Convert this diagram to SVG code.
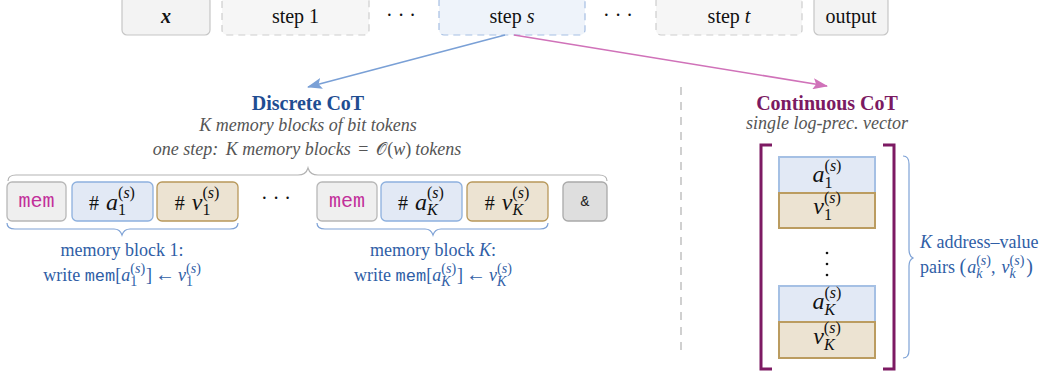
<svg xmlns="http://www.w3.org/2000/svg" width="1057" height="377" viewBox="0 0 1057 377">
<defs>
<style>
text{font-family:"Liberation Serif","Times New Roman",serif;}
.top{font-size:20px;fill:#111;text-anchor:middle;}
.solid{fill:#f3f3f3;stroke:#c6c6c6;stroke-width:1.2;}
.dash{fill:#f6f6f6;stroke:#cdcdcd;stroke-width:1.2;stroke-dasharray:7 5;}
.dashb{fill:#eef3fa;stroke:#a6bfe3;stroke-width:1.2;stroke-dasharray:7 5;}
.mem{fill:#efefef;stroke:#b7b7b7;stroke-width:1.3;}
.ta{fill:#e2e9f5;stroke:#8db0de;stroke-width:1.3;}
.tv{fill:#ece3d2;stroke:#b8985a;stroke-width:1.3;}
.amp{fill:#dedede;stroke:#a9a9a9;stroke-width:1.3;}
.va{fill:#e2e9f5;stroke:#a5c0e4;stroke-width:2;}
.vv{fill:#ece3d2;stroke:#bb9c60;stroke-width:2;}
.mono{font-family:"Liberation Mono","Courier New",monospace;}
.memt{font-size:20px;fill:#c2309a;text-anchor:middle;}
.tok{font-size:24px;fill:#111;text-anchor:middle;}
.it{font-style:italic;}
.title{font-size:20px;font-weight:bold;text-anchor:middle;}
.sub{font-size:18px;font-style:italic;fill:#555;text-anchor:middle;}
.lbl{font-size:18px;fill:#2f5ea6;text-anchor:middle;}
.lbls{font-size:18px;fill:#2f5ea6;}
.brg{fill:none;stroke:#b3b3b3;stroke-width:1.2;}
.brb{fill:none;stroke:#7ea2d6;stroke-width:1.2;}
.bracket{fill:none;stroke:#7d1a63;stroke-width:3;}
</style>
<marker id="ab" viewBox="0 0 15 11" refX="14" refY="5.5" markerWidth="15" markerHeight="11" markerUnits="userSpaceOnUse" orient="auto"><path d="M0,0 L15,5.5 L0,11 L3,5.5 z" fill="#7aa0d6"/></marker>
<marker id="ap" viewBox="0 0 15 11" refX="14" refY="5.5" markerWidth="15" markerHeight="11" markerUnits="userSpaceOnUse" orient="auto"><path d="M0,0 L15,5.5 L0,11 L3,5.5 z" fill="#d072b9"/></marker>
</defs>
<rect width="1057" height="377" fill="#ffffff"/>

<g id="node-x"><rect class="solid" x="122" y="-4" width="88" height="39" rx="5"/><text class="top" x="166" y="23" font-weight="bold" font-style="italic">x</text></g>
<g id="node-step1"><rect class="dash" x="222" y="-4" width="147" height="39" rx="5"/><text class="top" x="295.5" y="23">step 1</text></g>
<text class="top" x="401" y="22">· · ·</text>
<g id="node-steps"><rect class="dashb" x="439" y="-4" width="146" height="39" rx="5"/><text class="top" x="512" y="23">step <tspan class="it">s</tspan></text></g>
<text class="top" x="618" y="22">· · ·</text>
<g id="node-stept"><rect class="dash" x="656" y="-4" width="146" height="39" rx="5"/><text class="top" x="729" y="23">step <tspan class="it">t</tspan></text></g>
<g id="node-output"><rect class="solid" x="814" y="-4" width="74" height="39" rx="5"/><text class="top" x="851" y="23">output</text></g>

<g id="connectors">
<line x1="505" y1="35" x2="308" y2="87" stroke="#7aa0d6" stroke-width="1.6" marker-end="url(#ab)"/>
<line x1="514" y1="35" x2="827" y2="86" stroke="#d072b9" stroke-width="1.6" marker-end="url(#ap)"/>
</g>

<line x1="681" y1="87" x2="681" y2="357" stroke="#d0d0d0" stroke-width="2" stroke-dasharray="8 7"/>

<g id="discrete">
<text class="title" x="308" y="110" fill="#1f4d92">Discrete CoT</text>
<text class="sub" x="308" y="131">K memory blocks of bit tokens</text>
<text class="sub" x="307" y="155">one step: <tspan dx="3">K</tspan> memory blocks <tspan font-style="normal" dx="3">=</tspan><tspan font-family="DejaVu Sans, sans-serif" font-style="normal" font-size="17px" dx="8">𝒪</tspan><tspan font-style="normal">(</tspan>w<tspan font-style="normal">)</tspan><tspan dx="4">tokens</tspan></text>
<path class="brg" d="M8 181 Q8 175 16 175 L298 175 Q306 175 308 168 Q310 175 318 175 L599 175 Q607 175 607 181"/>
</g>

<g id="tok-mem1"><rect class="mem" x="7" y="182" width="59" height="39" rx="5"/><text class="mono memt" x="36.5" y="207">mem</text></g>
<g id="tok-a1"><rect class="ta" x="72" y="182" width="81" height="39" rx="5"/><text class="tok" x="112" y="210"><tspan font-size="20px">#</tspan><tspan dx="7" class="it">a</tspan><tspan font-size="16px" dy="5">1</tspan><tspan font-size="16px" dx="-8" dy="-17">(<tspan class="it">s</tspan>)</tspan></text></g>
<g id="tok-v1"><rect class="tv" x="157" y="182" width="81" height="39" rx="5"/><text class="tok" x="197" y="210"><tspan font-size="20px">#</tspan><tspan dx="7" class="it">v</tspan><tspan font-size="16px" dy="5">1</tspan><tspan font-size="16px" dx="-8" dy="-17">(<tspan class="it">s</tspan>)</tspan></text></g>
<text class="top" x="276" y="205" font-size="22px">· · ·</text>
<g id="tok-mem2"><rect class="mem" x="317" y="182" width="60" height="39" rx="5"/><text class="mono memt" x="347" y="207">mem</text></g>
<g id="tok-aK"><rect class="ta" x="381" y="182" width="81" height="39" rx="5"/><text class="tok" x="421" y="210"><tspan font-size="20px">#</tspan><tspan dx="7" class="it">a</tspan><tspan font-size="16px" dy="5" class="it">K</tspan><tspan font-size="16px" dx="-10.7" dy="-17">(<tspan class="it">s</tspan>)</tspan></text></g>
<g id="tok-vK"><rect class="tv" x="467" y="182" width="81" height="39" rx="5"/><text class="tok" x="507" y="210"><tspan font-size="20px">#</tspan><tspan dx="7" class="it">v</tspan><tspan font-size="16px" dy="5" class="it">K</tspan><tspan font-size="16px" dx="-10.7" dy="-17">(<tspan class="it">s</tspan>)</tspan></text></g>
<g id="tok-amp"><rect class="amp" x="563" y="182" width="44" height="39" rx="5"/><text class="mono" x="585" y="206" font-size="15px" text-anchor="middle" fill="#222">&amp;</text></g>

<g id="block1">
<path class="brb" d="M7 223 Q7 229 15 229 L114 229 Q120 229 122 235 Q124 229 130 229 L230 229 Q238 229 238 223"/>
<text class="lbl" x="122" y="256">memory block 1:</text>
<text class="lbl" x="122" y="281">write <tspan class="mono" font-size="17px">mem</tspan>[<tspan class="it">a</tspan><tspan font-size="14px" dy="5">1</tspan><tspan font-size="14px" dx="-7" dy="-13">(<tspan class="it">s</tspan>)</tspan><tspan dy="8" dx="1">]</tspan><tspan dx="3" font-size="20px">←</tspan><tspan dx="3" class="it">v</tspan><tspan font-size="14px" dy="5">1</tspan><tspan font-size="14px" dx="-7" dy="-13">(<tspan class="it">s</tspan>)</tspan></text>
</g>
<g id="blockK">
<path class="brb" d="M317 223 Q317 229 325 229 L425 229 Q431 229 433 235 Q435 229 441 229 L540 229 Q548 229 548 223"/>
<text class="lbl" x="433" y="256">memory block <tspan class="it">K</tspan>:</text>
<text class="lbl" x="433" y="281">write <tspan class="mono" font-size="17px">mem</tspan>[<tspan class="it">a</tspan><tspan font-size="14px" dy="5" class="it">K</tspan><tspan font-size="14px" dx="-9.3" dy="-13">(<tspan class="it">s</tspan>)</tspan><tspan dy="8" dx="1">]</tspan><tspan dx="3" font-size="20px">←</tspan><tspan dx="3" class="it">v</tspan><tspan font-size="14px" dy="5" class="it">K</tspan><tspan font-size="14px" dx="-9.3" dy="-13">(<tspan class="it">s</tspan>)</tspan></text>
</g>

<g id="continuous">
<text class="title" x="827" y="110" fill="#7b1a62">Continuous CoT</text>
<text class="sub" x="827" y="129">single log-prec. vector</text>
<path class="bracket" d="M772 145 L761 145 L761 369 L772 369"/>
<path class="bracket" d="M883 145 L894 145 L894 369 L883 369"/>
</g>
<g id="vec-a1"><rect class="va" x="779" y="157" width="96" height="36"/><text class="tok" x="827" y="182"><tspan class="it">a</tspan><tspan font-size="16px" dy="6">1</tspan><tspan font-size="16px" dx="-8" dy="-17">(<tspan class="it">s</tspan>)</tspan></text></g>
<g id="vec-v1"><rect class="vv" x="779" y="193" width="96" height="35"/><text class="tok" x="827" y="214"><tspan class="it">v</tspan><tspan font-size="16px" dy="6">1</tspan><tspan font-size="16px" dx="-8" dy="-17">(<tspan class="it">s</tspan>)</tspan></text></g>
<g id="vdots" fill="#111"><circle cx="827" cy="253" r="1.3"/><circle cx="827" cy="264" r="1.3"/><circle cx="827" cy="275" r="1.3"/></g>
<g id="vec-aK"><rect class="va" x="779" y="286" width="96" height="36"/><text class="tok" x="827" y="309"><tspan class="it">a</tspan><tspan font-size="16px" dy="6" class="it">K</tspan><tspan font-size="16px" dx="-10.7" dy="-17">(<tspan class="it">s</tspan>)</tspan></text></g>
<g id="vec-vK"><rect class="vv" x="779" y="322" width="96" height="36"/><text class="tok" x="827" y="344"><tspan class="it">v</tspan><tspan font-size="16px" dy="6" class="it">K</tspan><tspan font-size="16px" dx="-10.7" dy="-17">(<tspan class="it">s</tspan>)</tspan></text></g>

<g id="pairs">
<path class="brb" d="M903 156 Q909 156 909 164 L909 250 Q909 256 913 258 Q909 260 909 266 L909 350 Q909 358 903 358"/>
<text class="lbls" x="920" y="248"><tspan class="it">K</tspan> address–value</text>
<text class="lbls" x="920" y="273">pairs <tspan font-size="20px">(</tspan><tspan class="it" dx="1">a</tspan><tspan font-size="14px" dy="5" class="it">k</tspan><tspan font-size="14px" dx="-6.2" dy="-13">(<tspan class="it">s</tspan>)</tspan><tspan dy="8">,</tspan><tspan dx="6" class="it">v</tspan><tspan font-size="14px" dy="5" class="it">k</tspan><tspan font-size="14px" dx="-6.2" dy="-13">(<tspan class="it">s</tspan>)</tspan><tspan dy="8" dx="2" font-size="20px">)</tspan></text>
</g>
</svg>
